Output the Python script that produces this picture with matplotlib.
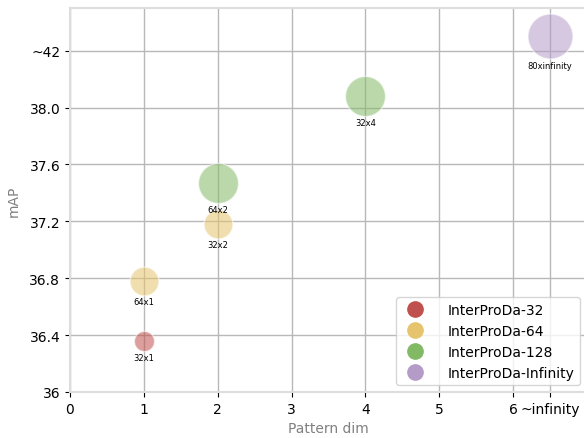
import matplotlib
matplotlib.use('Agg')
import matplotlib.pyplot as plt
from matplotlib.lines import Line2D

# bubble data (y in axis units: 36 + 0.4*step, ~42 drawn at 38.4)
xs = [1, 1, 2, 2, 4, 6.5]
ys = [36.36, 36.78, 37.18, 37.47, 38.08, 38.50]
sizes = [210, 430, 430, 830, 830, 1050]
names = ['32x1', '64x1', '32x2', '64x2', '32x4', '80xinfinity']
groups = [0, 1, 1, 2, 2, 3]

series = ['InterProDa-32', 'InterProDa-64', 'InterProDa-128', 'InterProDa-Infinity']
colors = ['#c0504d', '#e6c46e', '#82b964', '#b49bc8']

xticks = [0, 1, 2, 3, 4, 5, 6, 6.5]
xticklabels = ['0', '1', '2', '3', '4', '5', '6', '~infinity']
yticks = [36, 36.4, 36.8, 37.2, 37.6, 38.0, 38.4]
yticklabels = ['36', '36.4', '36.8', '37.2', '37.6', '38.0', '~42']

fig = plt.figure(figsize=(5.84, 4.39), dpi=100)
ax = fig.add_axes([70/584, 46/439, 517/584, 384/439])

for x, y, s, n, g in zip(xs, ys, sizes, names, groups):
    ax.scatter(x, y, s=s, color=colors[g], alpha=0.55, edgecolors='white', linewidths=1, zorder=3)
    r = (s ** 0.5) / 2
    ax.annotate(n, (x, y), xytext=(0, -r - 4.5), textcoords='offset points',
                ha='center', va='center', fontsize=6, zorder=4)

ax.set_xlim(0, 7)
ax.set_ylim(36, 38.7)
ax.set_xticks(xticks)
ax.set_xticklabels(xticklabels)
ax.set_yticks(yticks)
ax.set_yticklabels(yticklabels)
ax.grid(True, color='#b8b8b8', linewidth=1)
ax.set_axisbelow(True)
for sp in ax.spines.values():
    sp.set_color('#dddddd')
    sp.set_linewidth(1.5)
ax.tick_params(labelsize=10)
ax.set_xlabel('Pattern dim', color='gray', fontsize=10)
ax.set_ylabel('mAP', color='gray', fontsize=10, labelpad=6)

handles = [Line2D([], [], marker='o', linestyle='', color=c, markersize=11, label=l)
           for c, l in zip(colors, series)]
ax.legend(handles=handles, loc='lower right', bbox_to_anchor=(0.986, 0.018), fontsize=10,
          handletextpad=1.3, borderaxespad=0)

plt.savefig('out.png', dpi=100)
